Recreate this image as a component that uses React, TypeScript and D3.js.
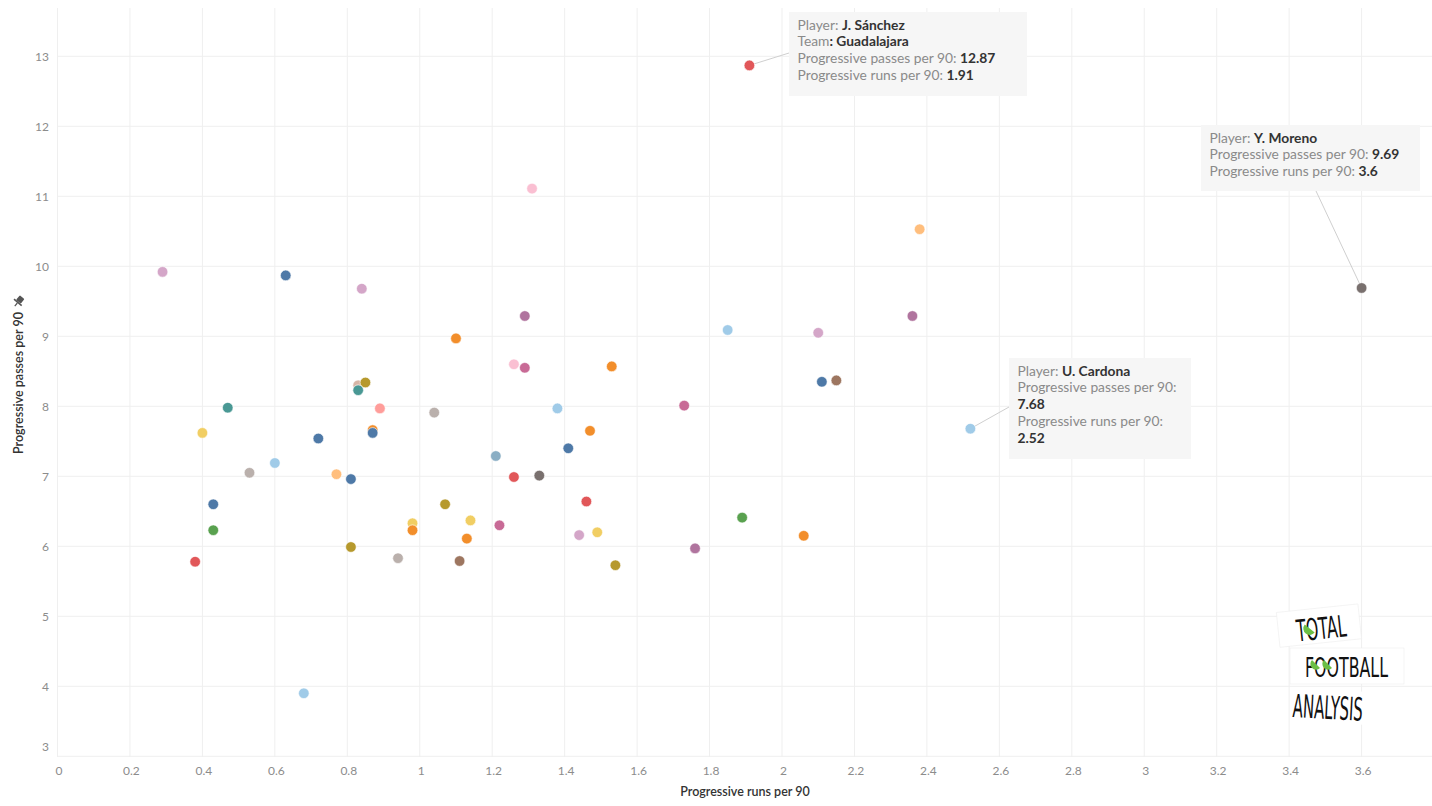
import React from "react";
import * as d3 from "d3";

// ---------- DATA ----------
const runs = [
  1.91, 1.31, 2.38, 0.29, 0.63, 3.6, 0.84, 2.36, 1.29, 1.85,
  2.1, 1.1, 1.26, 1.53, 1.29, 2.15, 2.11, 0.83, 0.85, 0.83,
  1.73, 0.47, 0.89, 1.38, 1.04, 2.52, 0.87, 1.47, 0.4, 0.87,
  0.72, 1.41, 1.21, 0.6, 0.53, 0.77, 1.33, 1.26, 0.81, 1.46,
  0.43, 1.07, 1.89, 1.14, 0.98, 1.22, 0.98, 0.43, 1.49, 1.44,
  2.06, 1.13, 0.81, 1.76, 0.94, 1.11, 0.38, 1.54, 0.68,
];
const passes = [
  12.87, 11.11, 10.53, 9.92, 9.87, 9.69, 9.68, 9.29, 9.29, 9.09,
  9.05, 8.97, 8.6, 8.57, 8.55, 8.37, 8.35, 8.3, 8.34, 8.23,
  8.01, 7.98, 7.97, 7.97, 7.91, 7.68, 7.66, 7.65, 7.62, 7.62,
  7.54, 7.4, 7.29, 7.19, 7.05, 7.03, 7.01, 6.99, 6.96, 6.64,
  6.6, 6.6, 6.41, 6.37, 6.33, 6.3, 6.23, 6.23, 6.2, 6.16,
  6.15, 6.11, 5.99, 5.97, 5.83, 5.79, 5.78, 5.73, 3.9,
];
// team colour group of each player
const teamOf = [
  "red", "lightpink", "lightorange", "lightpurple", "blue", "gray", "lightpurple", "purple", "purple", "lightblue",
  "lightpurple", "orange", "lightpink", "orange", "pink", "brown", "blue", "lightbrown", "olive", "teal",
  "pink", "teal", "lightred", "lightblue", "lightgray", "lightblue", "orange", "orange", "yellow", "blue",
  "blue", "blue", "steel", "lightblue", "lightgray", "lightorange", "gray", "red", "blue", "red",
  "blue", "olive", "green", "yellow", "yellow", "pink", "orange", "green", "yellow", "lightpurple",
  "orange", "orange", "olive", "purple", "lightgray", "brown", "red", "olive", "lightblue",
];
const teamColors: Record<string, string> = {
  blue: "#4e79a7", lightblue: "#a0cbe8", orange: "#f28e2b", lightorange: "#ffbe7d",
  green: "#59a14f", olive: "#b6992d", yellow: "#f1ce63", teal: "#499894",
  red: "#e15759", lightred: "#ff9d9a", gray: "#79706e", lightgray: "#bab0ac",
  pink: "#c86a96", lightpink: "#fabfd2", purple: "#b0749e", lightpurple: "#d4a6c8",
  brown: "#9d7660", lightbrown: "#d7b5a6", steel: "#8aaec4",
};

const xTickValues = [0, 0.2, 0.4, 0.6, 0.8, 1, 1.2, 1.4, 1.6, 1.8, 2, 2.2, 2.4, 2.6, 2.8, 3, 3.2, 3.4, 3.6];
const yTickValues = [3, 4, 5, 6, 7, 8, 9, 10, 11, 12, 13];

const annotations = [
  { idx: 0, lines: [["Player: ", "J. Sánchez"], ["Team", ": Guadalajara"], ["Progressive passes per 90: ", "12.87"], ["Progressive runs per 90: ", "1.91"]] },
  { idx: 5, lines: [["Player: ", "Y. Moreno"], ["Progressive passes per 90: ", "9.69"], ["Progressive runs per 90: ", "3.6"]] },
  { idx: 25, lines: [["Player: ", "U. Cardona"], ["Progressive passes per 90:", ""], ["", "7.68"], ["Progressive runs per 90:", ""], ["", "2.52"]] },
];

// ---------- CHART ----------
const W = 1432;
const H = 806;
const FONT = "Lato, 'Open Sans', sans-serif";

export default function App() {
  const x = d3.scaleLinear().domain([0, 3.775]).range([57.5, 1425]);
  const y = d3.scaleLinear().domain([2.99, 13.69]).range([757, 8]);
  const fmt = d3.format("~g");

  // box layouts for annotations (pixel boxes)
  const boxes = [
    { x0: 789, y0: 12, x1: 1027, y1: 96, lx: 789, ly: 53 },
    { x0: 1201, y0: 125, x1: 1420, y1: 191, lx: 1316, ly: 191 },
    { x0: 1009, y0: 358, x1: 1191, y1: 459, lx: 1009, ly: 407 },
  ];
  const lineH = 16.8;

  const order = d3.range(runs.length);

  return (
    <svg width={W} height={H} style={{ position: "absolute", left: 0, top: 0, background: "#fff" }}>
      <rect width={W} height={H} fill="#fff" />
      {/* gridlines */}
      {xTickValues.map((v) => (
        <line key={"gx" + v} x1={x(v)} x2={x(v)} y1={8} y2={757} stroke="#efefef" strokeWidth={1} />
      ))}
      {yTickValues.map((v) => (
        <line key={"gy" + v} x1={57.5} x2={1432} y1={y(v)} y2={y(v)} stroke="#efefef" strokeWidth={1} />
      ))}
      {/* tick labels */}
      {xTickValues.map((v) => (
        <text key={"tx" + v} x={x(v) + 1.5} y={775} textAnchor="middle" fontFamily={FONT} fontSize={12} fill="#8c8c8c">
          {fmt(v)}
        </text>
      ))}
      {yTickValues.map((v) => (
        <text key={"ty" + v} x={49} y={v === 3 ? y(v) - 5 : y(v) + 4.5} textAnchor="end" fontFamily={FONT} fontSize={12} fill="#8c8c8c">
          {fmt(v)}
        </text>
      ))}
      {/* axis titles */}
      <text x={745} y={796} textAnchor="middle" fontFamily={FONT} fontSize={12.5} fontWeight={600} fill="#333">
        Progressive runs per 90
      </text>
      <text transform="translate(23,383) rotate(-90)" textAnchor="middle" fontFamily={FONT} fontSize={12.5} fontWeight={600} fill="#333">
        Progressive passes per 90
      </text>
      {/* pin icon */}
      <g transform="translate(19,301) rotate(40)" fill="#555">
        <rect x={-3} y={-5} width={6} height={6} rx={1} />
        <rect x={-5} y={1} width={10} height={1.6} />
        <rect x={-0.6} y={2.6} width={1.2} height={4} />
      </g>

      {/* connector lines */}
      {annotations.map((a, i) => (
        <line key={"cl" + i} x1={x(runs[a.idx])} y1={y(passes[a.idx])} x2={boxes[i].lx} y2={boxes[i].ly} stroke="#cfcfcf" strokeWidth={1} />
      ))}

      {/* points */}
      {order.map((i) => (
        <circle
          key={"p" + i}
          cx={x(runs[i])}
          cy={y(passes[i])}
          r={5.3}
          fill={teamColors[teamOf[i]]}
          stroke="#fff"
          strokeWidth={0.6}
        />
      ))}

      {/* annotation boxes */}
      {annotations.map((a, i) => {
        const b = boxes[i];
        return (
          <g key={"an" + i}>
            <rect x={b.x0} y={b.y0} width={b.x1 - b.x0} height={b.y1 - b.y0} fill="#f6f6f6" fillOpacity={0.95} />
            {a.lines.map((ln, j) => (
              <text key={j} x={b.x0 + 8.5} y={b.y0 + 17.5 + j * lineH} fontFamily={FONT} fontSize={13.8} fill="#8a8a8a">
                <tspan>{ln[0]}</tspan>
                <tspan fill="#333" fontWeight={700}>{ln[1]}</tspan>
              </text>
            ))}
          </g>
        );
      })}

      {/* logo */}
      <g fontFamily="'DejaVu Sans Condensed', 'Liberation Sans Narrow', sans-serif" fill="#111">
        <g transform="translate(1320,626) rotate(-6)">
          <rect x={-42} y={-18} width={82} height={35} fill="#fff" stroke="#eee" strokeWidth={0.6} />
          <text x={-24} y={13} fontSize={30} fontWeight={300} textLength={50} lengthAdjust="spacingAndGlyphs">TOTAL</text>
          <path d="M -15,-3 A 5.5 5.5 0 0 0 -6,6 Z" fill="#6cbf45" />
        </g>
        <rect x={1290} y={648} width={114} height={36} fill="#fff" stroke="#eee" strokeWidth={0.6} />
        <text x={1305} y={677} fontSize={26} fontWeight={300} textLength={83} lengthAdjust="spacingAndGlyphs">FOOTBALL</text>
        <path d="M 1312,660 A 5 5 0 0 0 1320,668 Z" fill="#6cbf45" />
        <path d="M 1324,660 A 5 5 0 0 0 1332,668 Z" fill="#6cbf45" />
        <g transform="translate(1330,706) rotate(3)">
          <rect x={-38} y={-16} width={82} height={33} fill="#fff" />
          <text x={-37} y={13} fontSize={32} fontWeight={300} textLength={70} lengthAdjust="spacingAndGlyphs">ANALYSIS</text>
        </g>
      </g>
    </svg>
  );
}
